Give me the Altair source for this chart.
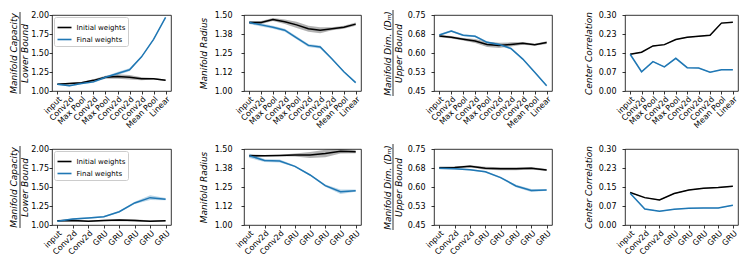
import altair as alt
import pandas as pd

TOP_LAYERS = ["input", "Conv2d", "Max Pool", "Conv2d", "Max Pool", "Conv2d",
              "Conv2d", "Conv2d", "Mean Pool", "Linear"]
BOT_LAYERS = ["input", "Conv2d", "Conv2d", "GRU", "GRU", "GRU", "GRU", "GRU"]
SERIES = ["Initial weights", "Final weights"]
COLORS = ["black", "#1f77b4"]

# ---- top row (CNN) ----
top_cap_init = [1.09, 1.10, 1.11, 1.14, 1.18, 1.19, 1.18, 1.16, 1.16, 1.14]
top_cap_init_sd = [0.01, 0.01, 0.01, 0.015, 0.02, 0.03, 0.03, 0.02, 0.01, 0.01]
top_cap_final = [1.09, 1.07, 1.10, 1.12, 1.18, 1.23, 1.28, 1.45, 1.68, 1.97]
top_cap_final_sd = [0.01, 0.01, 0.01, 0.01, 0.015, 0.02, 0.02, 0.01, 0.01, 0.01]

top_rad_init = [1.45, 1.45, 1.47, 1.455, 1.435, 1.41, 1.40, 1.41, 1.42, 1.44]
top_rad_init_sd = [0.01, 0.01, 0.01, 0.015, 0.02, 0.02, 0.02, 0.01, 0.01, 0.01]
top_rad_final = [1.45, 1.435, 1.42, 1.40, 1.35, 1.30, 1.29, 1.21, 1.127, 1.055]
top_rad_final_sd = [0.01, 0.01, 0.01, 0.01, 0.01, 0.01, 0.01, 0.005, 0.005, 0.005]

top_dim_init = [0.667, 0.662, 0.654, 0.647, 0.634, 0.630, 0.634, 0.638, 0.633, 0.641]
top_dim_init_sd = [0.005, 0.005, 0.005, 0.008, 0.01, 0.01, 0.008, 0.005, 0.004, 0.005]
top_dim_final = [0.671, 0.687, 0.670, 0.666, 0.642, 0.634, 0.618, 0.576, 0.524, 0.471]
top_dim_final_sd = [0.004, 0.004, 0.004, 0.004, 0.004, 0.004, 0.004, 0.003, 0.003, 0.003]

top_cor_init = [0.145, 0.153, 0.178, 0.183, 0.203, 0.212, 0.216, 0.220, 0.268, 0.271]
top_cor_init_sd = [0.002] * 10
top_cor_final = [0.145, 0.076, 0.116, 0.095, 0.129, 0.092, 0.091, 0.074, 0.084, 0.084]
top_cor_final_sd = [0.002] * 10

# ---- bottom row (GRU) ----
bot_cap_init = [1.055, 1.06, 1.05, 1.06, 1.065, 1.06, 1.05, 1.055]
bot_cap_init_sd = [0.01, 0.015, 0.01, 0.01, 0.015, 0.015, 0.01, 0.01]
bot_cap_final = [1.05, 1.078, 1.092, 1.11, 1.175, 1.29, 1.36, 1.34]
bot_cap_final_sd = [0.01, 0.01, 0.01, 0.01, 0.01, 0.015, 0.03, 0.015]

bot_rad_init = [1.456, 1.455, 1.457, 1.46, 1.46, 1.47, 1.485, 1.482]
bot_rad_init_sd = [0.01, 0.005, 0.005, 0.01, 0.02, 0.025, 0.015, 0.01]
bot_rad_final = [1.456, 1.425, 1.421, 1.386, 1.329, 1.259, 1.219, 1.226]
bot_rad_final_sd = [0.015, 0.01, 0.01, 0.005, 0.005, 0.008, 0.015, 0.008]

bot_dim_init = [0.676, 0.677, 0.682, 0.674, 0.672, 0.672, 0.674, 0.667]
bot_dim_init_sd = [0.005, 0.004, 0.004, 0.006, 0.006, 0.006, 0.005, 0.004]
bot_dim_final = [0.674, 0.672, 0.668, 0.66, 0.637, 0.604, 0.586, 0.588]
bot_dim_final_sd = [0.004, 0.003, 0.003, 0.003, 0.003, 0.005, 0.006, 0.003]

bot_cor_init = [0.128, 0.108, 0.099, 0.124, 0.138, 0.145, 0.148, 0.153]
bot_cor_init_sd = [0.002] * 8
bot_cor_final = [0.125, 0.063, 0.054, 0.062, 0.066, 0.067, 0.067, 0.078]
bot_cor_final_sd = [0.002] * 8

# ---- y axes ----
CAP_TICKS = [1.0, 1.25, 1.5, 1.75, 2.0]
CAP_LABELS = ["1.00", "1.25", "1.50", "1.75", "2.00"]
RAD_TICKS = [1.0, 1.125, 1.25, 1.375, 1.5]
RAD_LABELS = ["1.00", "1.12", "1.25", "1.38", "1.50"]
DIM_TICKS = [0.45, 0.525, 0.6, 0.675, 0.75]
DIM_LABELS = ["0.45", "0.53", "0.60", "0.68", "0.75"]
COR_TICKS = [0.0, 0.075, 0.15, 0.225, 0.3]
COR_LABELS = ["0.00", "0.07", "0.15", "0.23", "0.30"]

CAP_TITLE = ["Manifold Capacity", "Lower Bound"]
RAD_TITLE = "Manifold Radius"
DIM_TITLE = ["Manifold Dim.  (D\u2098)", "Upper Bound"]
COR_TITLE = "Center Correlation"

H = 76


def js_list(items):
    return "[" + ",".join("'" + str(s) + "'" for s in items) + "]"


def panel(layers, init, init_sd, final, final_sd, yticks, ylabels, title,
          width, label_pad, title_pad, legend=False, frac=None):
    rows = []
    for s, m, sd in ((SERIES[0], init, init_sd), (SERIES[1], final, final_sd)):
        for i, (v, e) in enumerate(zip(m, sd)):
            rows.append(dict(idx=i, series=s, mean=v, lo=v - e, hi=v + e))
    df = pd.DataFrame(rows)
    n = len(layers)
    pad = 0.05 * (n - 1)
    x = alt.X("idx:Q",
              scale=alt.Scale(domain=[-pad, n - 1 + pad], nice=False, zero=False),
              axis=alt.Axis(values=list(range(n)),
                            labelExpr=js_list(layers) + "[datum.value]",
                            labelAngle=315, labelAlign="right", labelBaseline="top",
                            labelPadding=1, labelOverlap=False, labelFlush=False,
                            title=None))
    yscale = alt.Scale(domain=[yticks[0], yticks[-1]], nice=False, zero=False)
    yaxis = alt.Axis(values=yticks,
                     labelExpr=js_list(ylabels) + "[indexof(" +
                     "[" + ",".join(repr(t) for t in yticks) + "], datum.value)]",
                     title=title, labelPadding=label_pad, titlePadding=title_pad,
                     labelOverlap=False, labelFlush=False)
    leg = None
    if legend:
        leg = alt.Legend(title=None, orient="top-left", offset=2, padding=2.5,
                         fillColor="white", strokeColor="#cccccc", cornerRadius=2,
                         labelFontSize=7, labelFont="DejaVu Sans", labelColor="black",
                         symbolType="stroke", symbolSize=196, symbolStrokeWidth=1.6,
                         symbolOpacity=1, rowPadding=-4, labelOffset=4)
    color = alt.Color("series:N", scale=alt.Scale(domain=SERIES, range=COLORS),
                      legend=leg)
    band = alt.Chart(df).mark_area(opacity=0.3).encode(
        x=x, y=alt.Y("lo:Q", scale=yscale, axis=yaxis), y2="hi:Q", color=color,
        detail="series:N")
    line = alt.Chart(df).mark_line(strokeWidth=1.5).encode(
        x=x, y=alt.Y("mean:Q", scale=yscale, axis=yaxis), color=color,
        order="idx:Q")
    layers_ = [band, line]
    if frac is not None:
        fx, fy0, fy1 = frac
        rule = alt.Chart(pd.DataFrame({"k": [0]})).mark_rule(
            color="black", strokeWidth=0.8).encode(
            x=alt.value(fx), y=alt.value(fy0), y2=alt.value(fy1))
        layers_.append(rule)
    return alt.layer(*layers_).properties(width=width, height=H)


W = [119, 117, 118, 113]

charts = [
    panel(TOP_LAYERS, top_cap_init, top_cap_init_sd, top_cap_final, top_cap_final_sd,
          CAP_TICKS, CAP_LABELS, CAP_TITLE, W[0], 0.5, 1.5, legend=True,
          frac=(-32, -3, 79)),
    panel(TOP_LAYERS, top_rad_init, top_rad_init_sd, top_rad_final, top_rad_final_sd,
          RAD_TICKS, RAD_LABELS, RAD_TITLE, W[1], 9, 6),
    panel(TOP_LAYERS, top_dim_init, top_dim_init_sd, top_dim_final, top_dim_final_sd,
          DIM_TICKS, DIM_LABELS, DIM_TITLE, W[2], 6, 4, frac=(-41, -5, 81)),
    panel(TOP_LAYERS, top_cor_init, top_cor_init_sd, top_cor_final, top_cor_final_sd,
          COR_TICKS, COR_LABELS, COR_TITLE, W[3], 6, 5),
    panel(BOT_LAYERS, bot_cap_init, bot_cap_init_sd, bot_cap_final, bot_cap_final_sd,
          CAP_TICKS, CAP_LABELS, CAP_TITLE, W[0], 0.5, 1.5, legend=True,
          frac=(-32, -3, 79)),
    panel(BOT_LAYERS, bot_rad_init, bot_rad_init_sd, bot_rad_final, bot_rad_final_sd,
          RAD_TICKS, RAD_LABELS, RAD_TITLE, W[1], 9, 6),
    panel(BOT_LAYERS, bot_dim_init, bot_dim_init_sd, bot_dim_final, bot_dim_final_sd,
          DIM_TICKS, DIM_LABELS, DIM_TITLE, W[2], 6, 4, frac=(-41, -5, 81)),
    panel(BOT_LAYERS, bot_cor_init, bot_cor_init_sd, bot_cor_final, bot_cor_final_sd,
          COR_TICKS, COR_LABELS, COR_TITLE, W[3], 6, 5),
]

chart = alt.concat(*charts, columns=4, spacing={"row": 58, "column": 73},
                   bounds="flush", align="each").resolve_scale(
    color="independent").resolve_legend(color="independent").properties(
    padding=0
).configure_view(stroke="black", strokeWidth=0.8).configure_axis(
    labelFont="DejaVu Sans", labelFontSize=8, labelColor="black",
    tickColor="black", tickSize=3, tickWidth=0.8, domain=False, grid=False,
    titleFont="DejaVu Sans", titleFontSize=9, titleFontStyle="italic",
    titleFontWeight="normal", titleColor="black", titleLineHeight=11
)

chart.save("out.html", embed_options={"renderer": "svg", "actions": False})
